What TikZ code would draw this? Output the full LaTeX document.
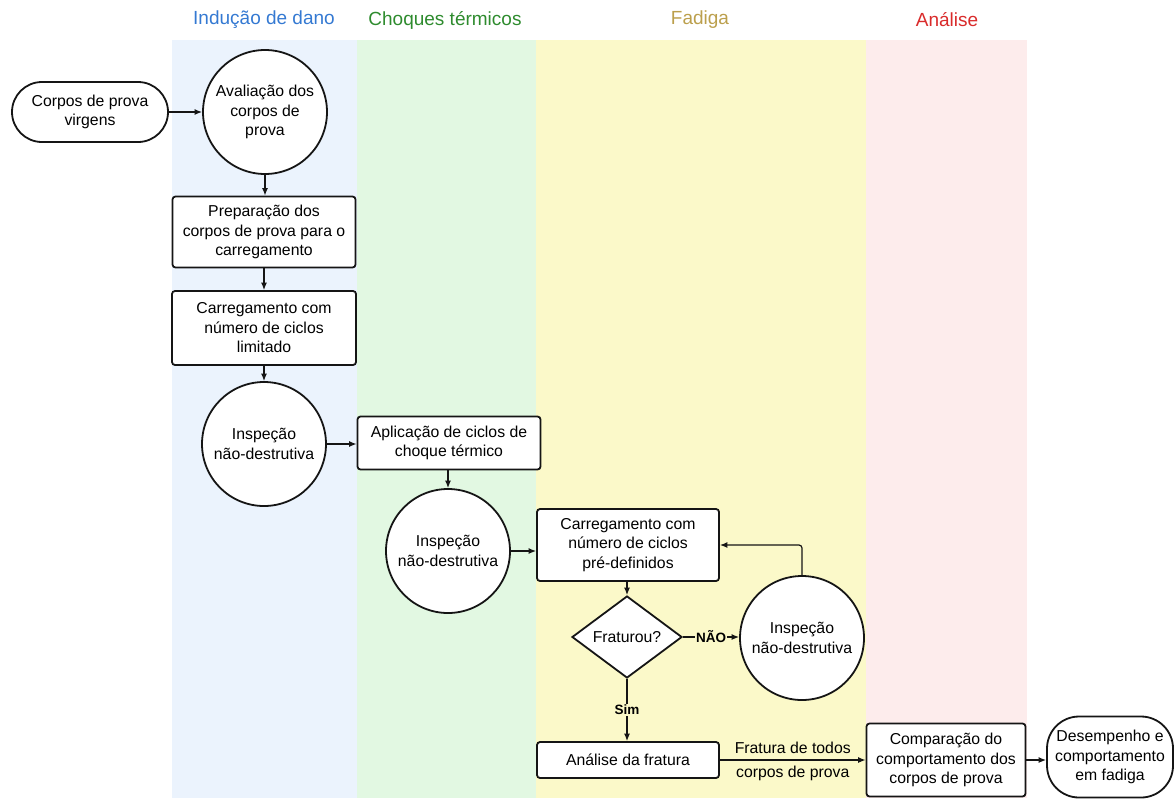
\documentclass[tikz,border=0pt]{standalone}
\usepackage{fontspec}
\setmainfont{Liberation Sans}
\usetikzlibrary{shapes.geometric,arrows.meta}
\definecolor{laneblue}{HTML}{EBF3FD}
\definecolor{lanegreen}{HTML}{E2F8E2}
\definecolor{laneyellow}{HTML}{FBF9C9}
\definecolor{lanepink}{HTML}{FDECEC}
\definecolor{hblue}{HTML}{3479D2}
\definecolor{hgreen}{HTML}{2E8B2E}
\definecolor{hyellow}{HTML}{BB9F4C}
\definecolor{hred}{HTML}{D92B2B}
\definecolor{ink}{HTML}{151515}
\begin{document}
\begin{tikzpicture}[x=1pt,y=-1pt,
  font=\fontsize{15.8}{19.5}\selectfont,
  box/.style={draw=ink, line width=1.8pt, rounded corners=3pt, fill=white, align=center, inner sep=0pt},
  circ/.style={draw=ink, circle, line width=1.8pt, fill=white, minimum size=124pt, inner sep=0pt, align=center},
  arr/.style={draw=ink, -{Latex[length=7.5pt,width=6pt]}, line width=1.2pt},
  head/.style={font=\fontsize{19}{22}\selectfont},
  lbl/.style={font=\fontsize{13.5}{15}\selectfont\bfseries, inner sep=1pt}]
\useasboundingbox (0,0) rectangle (1174,798);
% lanes
\fill[laneblue] (172,40) rectangle (357,798);
\fill[lanegreen] (357,40) rectangle (536,798);
\fill[laneyellow] (536,40) rectangle (866,798);
\fill[lanepink] (866,40) rectangle (1027,798);
% headers
\node[head, text=hblue] (h1) at (264,20) {Indução de dano};
\node[head, text=hgreen] (h2) at (445,20) {Choques térmicos};
\node[head, text=hyellow] (h3) at (700,20) {Fadiga};
\node[head, text=hred] (h4) at (947,20) {Análise};
% nodes
\node[box, minimum width=156pt, minimum height=60pt, rounded corners=30pt] (start) at (90,112) {Corpos de prova\\virgens};
\node[circ] (c1) at (265,112) {Avaliação dos\\corpos de\\prova};
\node[box, minimum width=183pt, minimum height=71pt] (r1) at (264,232) {Preparação dos\\corpos de prova para o\\carregamento};
\node[box, minimum width=184pt, minimum height=74pt] (r2) at (264,328) {Carregamento com\\número de ciclos\\limitado};
\node[circ] (c2) at (264,444) {Inspeção\\não-destrutiva};
\node[box, minimum width=183pt, minimum height=53pt] (r3) at (449,443) {Aplicação de ciclos de\\choque térmico};
\node[circ] (c3) at (448,551) {Inspeção\\não-destrutiva};
\node[box, minimum width=182pt, minimum height=72pt] (r4) at (628,545) {Carregamento com\\número de ciclos\\pré-definidos};
\node[diamond, draw=ink, line width=1.8pt, fill=white, aspect=1.34, minimum width=110pt, minimum height=82pt, inner sep=0pt] (d) at (627,637) {Fraturou?};
\node[circ] (c4) at (802,638) {Inspeção\\não-destrutiva};
\node[box, minimum width=182pt, minimum height=36pt] (r5) at (628,760) {Análise da fratura};
\node[box, minimum width=159pt, minimum height=73pt] (r6) at (946,760) {Comparação do\\comportamento dos\\corpos de prova};
\node[box, minimum width=126pt, minimum height=81pt, rounded corners=32pt] (end) at (1110,757) {Desempenho e\\comportamento\\em fadiga};
% connectors
\draw[arr] (start) -- (c1);
\draw[arr] (c1.south) -- (c1.south |- r1.north);
\draw[arr] (r1.south) -- (r1.south |- r2.north);
\draw[arr] (r2.south) -- (r2.south |- c2.north);
\draw[arr] (c2.east) -- (c2.east -| r3.west);
\draw[arr] (c3.north |- r3.south) -- (c3.north);
\draw[arr] (c3.east) -- (c3.east -| r4.west);
\draw[arr] (d.north |- r4.south) -- (d.north);
\draw[arr] (d.east) -- node[lbl, fill=laneyellow] {NÃO} (d.east -| c4.west);
\draw[arr] (d.south) -- node[lbl, fill=laneyellow] {Sim} (d.south |- r5.north);
\draw[arr, rounded corners=3pt] (c4.north) |- (r4.east);
\draw[arr] (r5.east) -- node[above=2pt] {Fratura de todos} node[below=2pt] {corpos de prova} (r5.east -| r6.west);
\draw[arr] (r6.east) -- (r6.east -| end.west);
\end{tikzpicture}
\end{document}
